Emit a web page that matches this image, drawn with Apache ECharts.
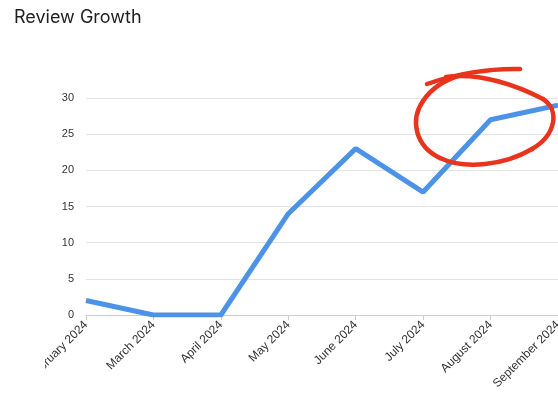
<!DOCTYPE html>
<html><head><meta charset="utf-8">
<script src="https://cdn.jsdelivr.net/npm/echarts@6/dist/echarts.min.js"></script>
<style>html,body{margin:0;padding:0;background:#fff}#c{width:558px;height:395px}</style>
</head><body><div id="c"></div>
<script>
const categories = ['February 2024','March 2024','April 2024','May 2024','June 2024','July 2024','August 2024','September 2024'];
const reviews = [2, 0, 0, 14, 23, 17, 27, 29];
const yTicks = [0, 5, 10, 15, 20, 25, 30];

const red = {fill:null, stroke:'#E8341C', lineWidth:4.5, lineCap:'round'};
function bz(x1,y1,c1x,c1y,c2x,c2y,x2,y2){
  return {type:'bezierCurve', z:100, shape:{x1:x1,y1:y1,cpx1:c1x,cpy1:c1y,cpx2:c2x,cpy2:c2y,x2:x2,y2:y2}, style:red};
}

const chart = echarts.init(document.getElementById('c'), null, {renderer:'canvas'});
chart.setOption({
  backgroundColor:'#fff',
  animation:false,
  title:{text:'Review Growth', left:9, top:4, textStyle:{fontFamily:'Inter', fontSize:18, fontWeight:'normal', color:'#1f1f1f'}},
  grid:{left:86, right:0, top:98, bottom:80, containLabel:false, outerBoundsMode:'none'},
  xAxis:{type:'category', data:categories, boundaryGap:false,
    axisLine:{lineStyle:{color:'#cccccc'}},
    axisTick:{show:true, alignWithLabel:true, length:5, lineStyle:{color:'#cccccc'}},
    axisLabel:{rotate:45, fontSize:12, color:'#333', fontFamily:'Liberation Sans', margin:8, interval:0, hideOverlap:false}
  },
  yAxis:{type:'value', min:yTicks[0], max:yTicks[yTicks.length-1], interval:5,
    axisLine:{show:false}, axisTick:{show:false},
    axisLabel:{fontSize:11, color:'#333', fontFamily:'Liberation Sans', margin:12},
    splitLine:{lineStyle:{color:'#e3e3e3'}}
  },
  series:[{type:'line', data:reviews, symbol:'none', lineStyle:{width:5, color:'#4C93E8'}}],
  graphic:[
    {type:'rect', z:90, shape:{x:0, y:320, width:45, height:75}, style:{fill:'#fff'}},
    bz(427,84, 455,74, 490,68, 520,69),
    bz(446,77, 480,72, 518,86, 543,99),
    bz(543,99, 560,110, 556,135, 532,149),
    bz(532,149, 505,165, 465,170, 440,158),
    bz(440,158, 415,146, 410,120, 423,101),
    bz(423,101, 431,89, 443,80, 462,75)
  ]
});
</script></body></html>
